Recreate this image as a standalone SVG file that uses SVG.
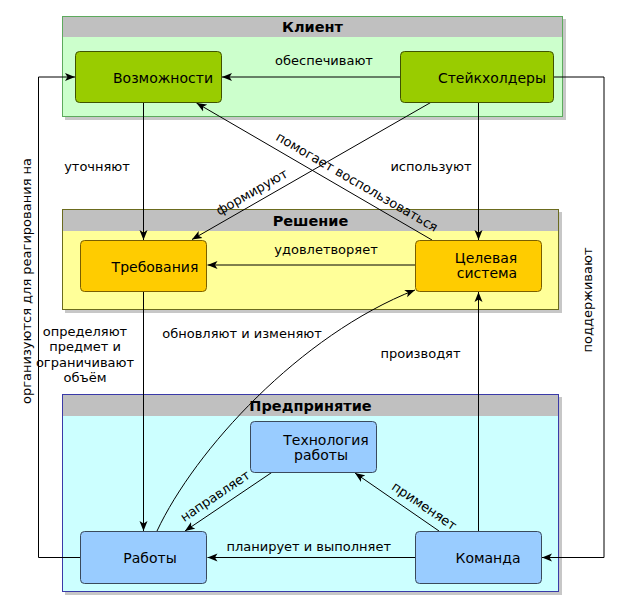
<svg xmlns="http://www.w3.org/2000/svg" width="619" height="612" viewBox="0 0 619 612">
<defs>
<marker id="arr" markerUnits="userSpaceOnUse" markerWidth="11" markerHeight="9" refX="10" refY="4.5" orient="auto">
<path d="M0,0.5 L10,4.5 L0,8.5 L2.5,4.5 Z" fill="#000"/>
</marker>
</defs>
<style>
.shadow{fill:#000;opacity:0.22}
.hdr{fill:#C0C0C0}
.htxt{font-family:"DejaVu Sans",sans-serif;font-size:14.5px;font-weight:bold;fill:#000;text-anchor:middle}
.ntxt{font-family:"DejaVu Sans",sans-serif;font-size:14px;fill:#000;text-anchor:middle}
.ltxt{font-family:"DejaVu Sans",sans-serif;font-size:13px;fill:#000;text-anchor:middle}
.green{fill:#99CC00;stroke:#3F5200;stroke-width:1}
.yellow{fill:#FFCC00;stroke:#7A5F00;stroke-width:1}
.blue{fill:#99CCFF;stroke:#3A4A5C;stroke-width:1}
.edge{fill:none;stroke:#000;stroke-width:1}
.edgeA{fill:none;stroke:#000;stroke-width:1;marker-end:url(#arr)}
</style>

<!-- Containers -->
<g id="client">
<rect class="shadow" x="65" y="19" width="501" height="101"/>
<rect x="62.5" y="16.5" width="500" height="100" fill="#CCFFCC"/>
<rect class="hdr" x="63" y="17" width="499" height="20"/>
<rect x="62.5" y="16.5" width="500" height="100" fill="none" stroke="#5DAA5D"/>
<text class="htxt" x="312.5" y="32">Клиент</text>
</g>
<g id="solution">
<rect class="shadow" x="65" y="212" width="497" height="101"/>
<rect x="62.5" y="209.5" width="496" height="100" fill="#FFFF99"/>
<rect class="hdr" x="63" y="210" width="495" height="21"/>
<rect x="62.5" y="209.5" width="496" height="100" fill="none" stroke="#6B6B1E"/>
<text class="htxt" x="310.5" y="226">Решение</text>
</g>
<g id="enterprise">
<rect class="shadow" x="65" y="397" width="497" height="198"/>
<rect x="62.5" y="394.5" width="496" height="197" fill="#CCFFFF"/>
<rect class="hdr" x="63" y="395" width="495" height="21"/>
<rect x="62.5" y="394.5" width="496" height="197" fill="none" stroke="#3A3AA8"/>
<text class="htxt" x="310.5" y="411">Предпринятие</text>
</g>

<!-- Connectors -->
<g id="connectors">
<path class="edgeA" d="M400,77 L222,77"/>
<path class="edgeA" d="M143.5,102 L143.5,240"/>
<path class="edgeA" d="M430.7,102.5 L192,239.5"/>
<path class="edgeA" d="M478.5,102 L478.5,240"/>
<path class="edgeA" d="M432,240 L196.5,103"/>
<path class="edgeA" d="M415,265 L207.5,265"/>
<path class="edgeA" d="M143.5,292 L143.5,531"/>
<path class="edgeA" d="M157,531 C195,450 300,335 415,290"/>
<path class="edgeA" d="M478.5,531 L478.5,292"/>
<path class="edgeA" d="M271.7,472.5 L185,531"/>
<path class="edgeA" d="M439,531 L355,473"/>
<path class="edgeA" d="M415,557.5 L207.5,557.5"/>
<path class="edgeA" d="M80,557.5 L38.5,557.5 L38.5,77 L75,77"/>
<path class="edgeA" d="M554,77 L604,77 L604,557.5 L542,557.5"/>
</g>

<!-- Edge labels -->
<g id="labels">
<text class="ltxt" x="324" y="65">обеспечивают</text>
<text class="ltxt" x="97" y="170.5">уточняют</text>
<text class="ltxt" x="431" y="170.5">используют</text>
<text class="ltxt" transform="translate(251.7,192) rotate(-29.6)" x="0" y="4.5">формируют</text>
<text class="ltxt" transform="translate(357,182) rotate(30.1)" x="0" y="4.5">помогает воспользоваться</text>
<text class="ltxt" x="326" y="254">удовлетворяет</text>
<text class="ltxt" x="242" y="337.5">обновляют и изменяют</text>
<text class="ltxt" x="420.5" y="357.5">производят</text>
<text class="ltxt" x="85" y="336">определяют</text>
<text class="ltxt" x="85" y="351">предмет и</text>
<text class="ltxt" x="85" y="366.5">ограничивают</text>
<text class="ltxt" x="85" y="381.5">объём</text>
<text class="ltxt" transform="translate(215,496) rotate(-34)" x="0" y="4.5">направляет</text>
<text class="ltxt" transform="translate(424.3,506) rotate(34.2)" x="0" y="4.5">применяет</text>
<text class="ltxt" x="308.7" y="551">планирует и выполняет</text>
<text class="ltxt" transform="translate(31,281) rotate(-90)" x="0" y="0">организуются для реагирования на</text>
<text class="ltxt" transform="translate(592,300) rotate(-90)" x="0" y="0">поддерживают</text>
</g>

<!-- Nodes -->
<g id="vozmozhnosti">
<rect class="green" x="75.5" y="51.5" width="146" height="51" rx="4"/>
<text class="ntxt" x="163" y="82.7">Возможности</text>
</g>
<g id="steikholdery">
<rect class="green" x="400.5" y="51.5" width="153" height="51" rx="4"/>
<text class="ntxt" x="492" y="82.7">Стейкхолдеры</text>
</g>
<g id="trebovaniya">
<rect class="yellow" x="80.5" y="240.5" width="126" height="51" rx="4"/>
<text class="ntxt" x="155" y="272">Требования</text>
</g>
<g id="tselevaya">
<rect class="yellow" x="415.5" y="240.5" width="126" height="51" rx="4"/>
<text class="ntxt" x="486" y="263.3">Целевая</text>
<text class="ntxt" x="487" y="278.3">система</text>
</g>
<g id="tekhnologiya">
<rect class="blue" x="250.5" y="421.5" width="126" height="51" rx="4"/>
<text class="ntxt" x="326" y="444.5">Технология</text>
<text class="ntxt" x="321" y="460">работы</text>
</g>
<g id="raboty">
<rect class="blue" x="80.5" y="531.5" width="126" height="52" rx="4"/>
<text class="ntxt" x="150" y="563">Работы</text>
</g>
<g id="komanda">
<rect class="blue" x="415.5" y="531.5" width="126" height="52" rx="4"/>
<text class="ntxt" x="488" y="563.3">Команда</text>
</g>
</svg>
